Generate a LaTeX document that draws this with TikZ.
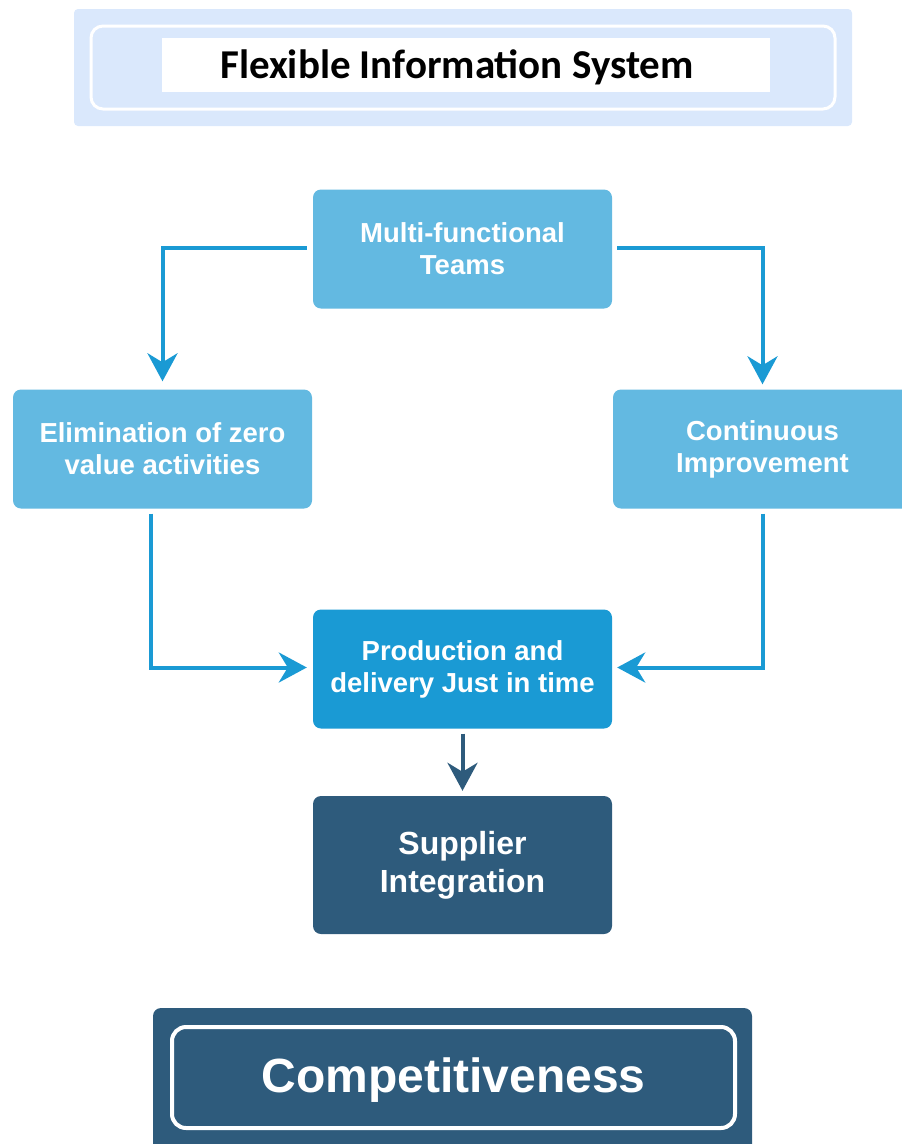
\documentclass[tikz,border=0pt]{standalone}
\usepackage{fontspec}
\setmainfont{Liberation Sans}
\newfontfamily\carlito{Carlito}
\usetikzlibrary{arrows.meta,calc}
\definecolor{lightbg}{HTML}{DAE8FC}
\definecolor{midblue}{HTML}{63B9E1}
\definecolor{strongblue}{HTML}{1A9AD4}
\definecolor{darkblue}{HTML}{2E5B7C}
\begin{document}
\begin{tikzpicture}[x=1pt,y=-1pt,
  box/.style={rectangle,rounded corners=8pt,minimum width=299pt,minimum height=119pt,
    text=white,font=\bfseries\fontsize{27.5}{32}\selectfont,align=center,inner sep=0pt},
  arr/.style={line width=4pt,strongblue,-{Stealth[length=28pt,width=30pt,inset=9pt]}},
  darr/.style={line width=4pt,darkblue,-{Stealth[length=28pt,width=30pt,inset=9pt]}}]
\clip (0,0) rectangle (902,1144);
\useasboundingbox (0,0) rectangle (902,1144);
% title
\node[rectangle,rounded corners=4pt,fill=lightbg,minimum width=778pt,minimum height=117pt,inner sep=0pt] (tout) at (463,67.5) {};
\node[rectangle,rounded corners=12pt,fill=lightbg,draw=white,line width=3pt,minimum width=744pt,minimum height=83pt,inner sep=0pt] (tin) at (463,67.5) {};
\node[rectangle,fill=white,minimum width=608pt,minimum height=54pt,inner sep=0pt] (title) at (466,65) {};
\node[font=\carlito\bfseries\fontsize{41}{48}\selectfont,inner sep=0pt] (ttext) at (457,67) {Flexible Information System};
% boxes
\node[box,fill=midblue] (multi) at (462.5,249) {Multi-functional\\Teams};
\node[box,fill=midblue] (elim) at (162.5,449) {Elimination of zero\\value activities};
\node[box,fill=midblue] (cont) at (762.5,449) {Continuous\\Improvement};
\node[box,fill=strongblue] (prod) at (462.5,669) {Production and\\delivery Just in time};
\node[box,fill=darkblue,minimum height=138pt,font=\bfseries\fontsize{32}{38}\selectfont] (sup) at (462.5,865) {Supplier\\Integration};
% competitiveness
\node[rectangle,rounded corners=8pt,fill=darkblue,minimum width=599pt,minimum height=160pt,inner sep=0pt] (cout) at (452.5,1088) {};
\node[rectangle,rounded corners=14pt,draw=white,line width=4pt,fill=darkblue,minimum width=563pt,minimum height=101pt,inner sep=0pt] (comp) at (453.5,1077.5) {};
\node[text=white,font=\bfseries\fontsize{48}{56}\selectfont,inner sep=0pt] (ctext) at (453.5,1080) {Competitiveness};
% arrows
\draw[arr] ([xshift=-6pt,yshift=1.5pt]multi.west) -| ([yshift=8pt]elim.north);
\draw[arr] ([xshift=5pt,yshift=1.5pt]multi.east) -| ([yshift=5pt]cont.north);
\draw[arr] ([xshift=-12pt,yshift=-5pt]elim.south) |- ([xshift=-6pt,yshift=1.5pt]prod.west);
\draw[arr] ([yshift=-5pt]cont.south) |- ([xshift=5pt,yshift=1.5pt]prod.east);
\draw[darr] ([yshift=-5pt]prod.south) -- ([yshift=5pt]sup.north);
\end{tikzpicture}
\end{document}
